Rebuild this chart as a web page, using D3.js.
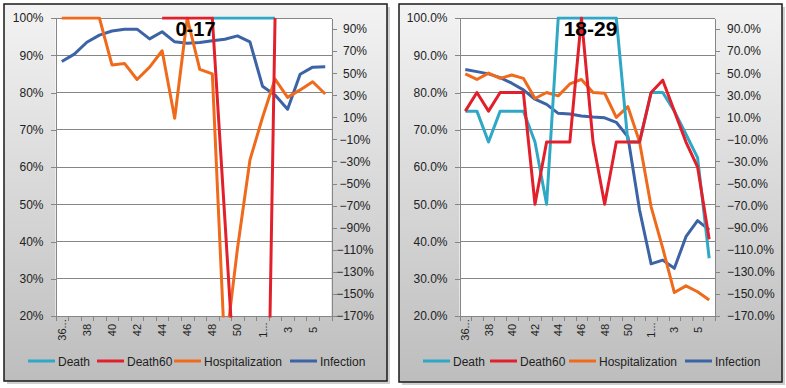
<!DOCTYPE html>
<html><head><meta charset="utf-8">
<script src="https://cdn.jsdelivr.net/npm/d3@7"></script>
<style>
body{margin:0;background:#fff;}
svg{display:block;font-family:"Liberation Sans",Arial,sans-serif;}
</style>
</head><body>
<svg id="c" width="786" height="388"></svg>
<script>
// ---- data ----
const categories = ["36...","37","38","39","40","41","42","43","44","45","46","47","48","49","50","51","1...","2","3","4","5","6"];
const seriesNames = ["Death","Death60","Hospitalization","Infection"];
const seriesColors = ["#2FA8C6","#E2202C","#F06A1C","#3B63A5"];
const leftTicks = [20,30,40,50,60,70,80,90,100];
const rightTicks = [-170,-150,-130,-110,-90,-70,-50,-30,-10,10,30,50,70,90];

// 0-17
const death_0_17 = [null,null,null,null,null,null,null,null,null,null,null,null,100,100,100,100,100,100,null,null,null,null];
const death60_0_17 = [null,null,null,null,null,null,null,null,100,100,100,100,100,46,-9,-50,-100,100,null,null,null,null];
const hosp_0_17 = [100,100,100,100,87.4,87.8,83.5,86.8,91.2,73.1,100,86.2,85.0,10,38,61.9,73.3,83.6,78.7,80.7,82.9,79.6];
const infection_0_17 = [88.3,90.3,93.5,95.4,96.5,97.0,97.0,94.4,96.3,93.6,93.2,93.4,93.9,94.3,95.2,93.6,81.7,79.3,75.5,84.9,86.8,86.9];

// 18-29
const death_18_29 = [75,75,66.7,75,75,75,66.7,50,100,100,100,100,100,100,66.7,66.7,80,80,75,68.8,62.5,35.5];
const death60_18_29 = [75,80,75,80,80,80,50,66.7,66.7,66.7,100,66.7,50,66.7,66.7,66.7,80,83.3,75,66.7,60,40.6];
const hosp_18_29 = [85.0,83.5,85.2,83.8,84.7,83.8,78.4,80.0,79.1,82.3,83.5,80.0,79.8,73.3,76.2,66.8,49.3,38.2,26.3,28.1,26.5,24.3];
const infection_18_29 = [86.2,85.6,85.0,84.0,82.5,80.7,78.2,76.8,74.4,74.2,73.7,73.4,73.2,72.0,68.1,48.5,34.0,35.0,32.8,41.3,45.6,43.1];

const svg = d3.select("#c");
const defs = svg.append("defs");
const grad = defs.append("linearGradient").attr("id","bg").attr("x1",0).attr("y1",0).attr("x2",0).attr("y2",1);
grad.append("stop").attr("offset","0%").attr("stop-color","#f3f3f3");
grad.append("stop").attr("offset","100%").attr("stop-color","#bdbdbd");

function panel(cfg){
  const g = svg.append("g");
  g.append("rect").attr("x",cfg.bx+3).attr("y",cfg.by+3).attr("width",cfg.bw).attr("height",cfg.bh).attr("fill","#b0b0b0").attr("opacity",0.6);
  g.append("rect").attr("x",cfg.bx).attr("y",cfg.by).attr("width",cfg.bw).attr("height",cfg.bh)
    .attr("fill","url(#bg)").attr("stroke","#1a1a1a").attr("stroke-width",1.5);
  const x = d3.scaleBand().domain(categories).range([cfg.px0,cfg.px1]).padding(0);
  const xi = d3.scaleLinear().domain([0,categories.length]).range([cfg.px0,cfg.px1]);
  const y = d3.scaleLinear().domain([20,100]).range([cfg.py1,cfg.py0]);
  const y2 = d3.scaleLinear().domain([-170,100]).range([cfg.py1,cfg.py0]);
  g.append("rect").attr("x",cfg.px0).attr("y",cfg.py0).attr("width",cfg.px1-cfg.px0).attr("height",cfg.py1-cfg.py0).attr("fill","#fff");
  g.append("g").selectAll("line").data(leftTicks).join("line")
    .attr("x1",cfg.px0).attr("x2",cfg.px1).attr("y1",d=>y(d)).attr("y2",d=>y(d))
    .attr("stroke","#868686").attr("stroke-width",1).attr("shape-rendering","crispEdges");
  const la = g.append("g").attr("transform",`translate(${cfg.px0},0)`)
    .call(d3.axisLeft(y).tickValues(leftTicks).tickSize(5).tickSizeOuter(0).tickPadding(7).tickFormat(d=>d3.format(cfg.fmt)(d/100)));
  const ra = g.append("g").attr("transform",`translate(${cfg.px1},0)`)
    .call(d3.axisRight(y2).tickValues(rightTicks).tickSize(5).tickSizeOuter(0).tickPadding(7).tickFormat(d=>d3.format(cfg.fmt)(d/100)));
  const ba = g.append("g").attr("transform",`translate(0,${cfg.py1})`)
    .call(d3.axisBottom(xi).tickValues(d3.range(0,categories.length+1)).tickSize(5).tickSizeOuter(0).tickFormat(""));
  [la,ra,ba].forEach(a=>{
    a.select(".domain").attr("stroke","#868686").attr("shape-rendering","crispEdges");
    a.selectAll(".tick line").attr("stroke","#868686").attr("shape-rendering","crispEdges");
    a.selectAll("text").attr("font-size",12).attr("fill","#222").attr("font-family","Liberation Sans, Arial, sans-serif");
  });
  if (cfg.rightCenter) {
    ra.selectAll(".tick text").attr("text-anchor","middle").attr("x",cfg.rightCenter-cfg.px1);
  }
  g.append("g").selectAll("text").data(categories.filter((c,i)=>i%2===0)).join("text")
    .attr("transform",d=>`translate(${x(d)+x.bandwidth()/2+4},${cfg.py1+14}) rotate(-90)`)
    .attr("text-anchor","middle").attr("font-size",11).attr("fill","#222").text(d=>d);
  const cid = "clip"+cfg.id;
  defs.append("clipPath").attr("id",cid).append("rect").attr("x",cfg.px0).attr("y",cfg.py0-1.5).attr("width",cfg.px1-cfg.px0).attr("height",cfg.py1-cfg.py0+3);
  const line = d3.line().defined(d=>d.v!==null).x(d=>x(d.c)+x.bandwidth()/2).y(d=>y(d.v));
  const order = [3,2,0,1];
  const lg = g.append("g").attr("clip-path",`url(#${cid})`);
  order.forEach(si=>{
    const vals = cfg.series[si].map((v,i)=>({c:categories[i],v:v}));
    lg.append("path").attr("d",line(vals)).attr("fill","none").attr("stroke",seriesColors[si])
      .attr("stroke-width",3).attr("stroke-linejoin","round");
  });
  g.append("text").attr("x",cfg.bx+cfg.bw/2).attr("y",36).attr("text-anchor","middle")
    .attr("font-size",cfg.titleSize).attr("font-weight","bold").attr("fill","#000").text(cfg.title);
  const leg = g.append("g");
  seriesNames.forEach((n,i)=>{
    const lx = cfg.legX[i];
    leg.append("line").attr("x1",lx).attr("x2",lx+27).attr("y1",361).attr("y2",361).attr("stroke",seriesColors[i]).attr("stroke-width",3);
    leg.append("text").attr("x",lx+30).attr("y",365.5).attr("font-size",12).attr("fill","#222").text(n);
  });
}

panel({id:1,bx:4,by:4,bw:383,bh:377,px0:55.5,px1:331.5,py0:18,py1:316,fmt:".0%",title:"0-17",titleSize:20,rightCenter:355,
  series:[death_0_17,death60_0_17,hosp_0_17,infection_0_17],legX:[28,97,174,290]});
panel({id:2,bx:399,by:4,bw:383,bh:378,px0:459.5,px1:715,py0:18,py1:316,fmt:".1%",title:"18-29",titleSize:21,
  series:[death_18_29,death60_18_29,hosp_18_29,infection_18_29],legX:[423,490,569,685]});
</script>
</body></html>
